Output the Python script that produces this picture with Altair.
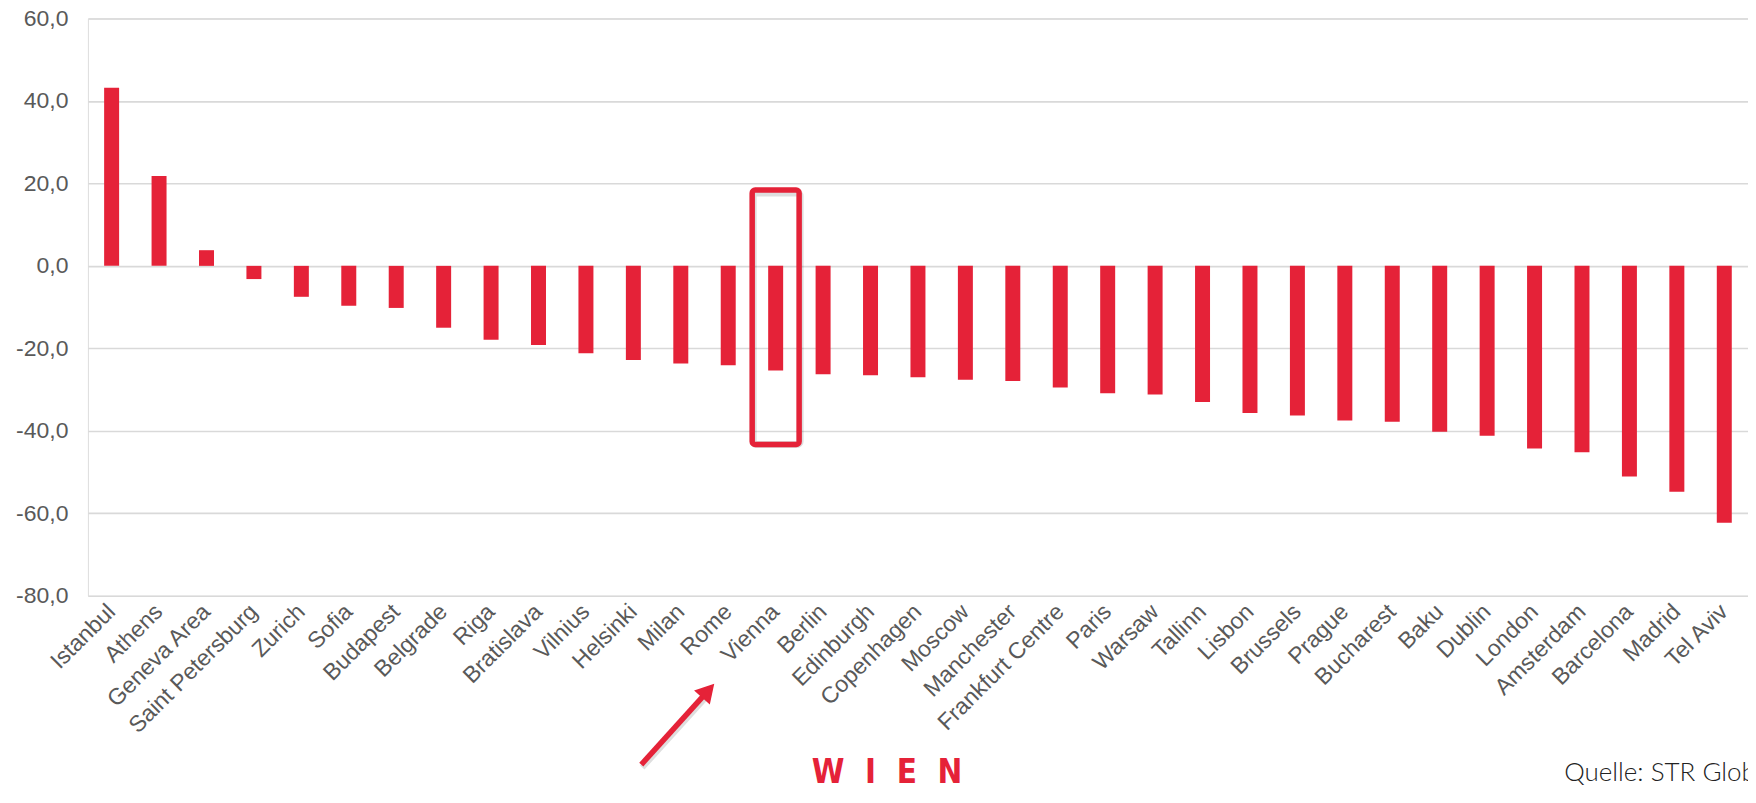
import altair as alt
import pandas as pd

# ---------------- data ----------------
cities = ["Istanbul", "Athens", "Geneva Area", "Saint Petersburg", "Zurich", "Sofia",
          "Budapest", "Belgrade", "Riga", "Bratislava", "Vilnius", "Helsinki", "Milan",
          "Rome", "Vienna", "Berlin", "Edinburgh", "Copenhagen", "Moscow", "Manchester",
          "Frankfurt Centre", "Paris", "Warsaw", "Tallinn", "Lisbon", "Brussels", "Prague",
          "Bucharest", "Baku", "Dublin", "London", "Amsterdam", "Barcelona", "Madrid",
          "Tel Aviv"]
values = [43.2, 21.8, 3.8, -3.2, -7.5, -9.7,
          -10.2, -15.0, -17.9, -19.2, -21.2, -22.8, -23.7,
          -24.1, -25.4, -26.3, -26.5, -27.0, -27.6, -27.9,
          -29.5, -30.9, -31.2, -33.0, -35.7, -36.3, -37.5,
          -37.8, -40.2, -41.2, -44.3, -45.2, -51.1, -54.8,
          -62.3]
y_ticks = [-80, -60, -40, -20, 0, 20, 40, 60]
highlight_city = ["Vienna"]
highlight_top = [18.4]
highlight_bottom = [-43.3]
source_text = "Quelle: STR Global"
logo_text = "W\u00a0\u00a0I\u00a0\u00a0E\u00a0\u00a0N"

# ---------------- style ----------------
RED = "#E52238"
GREY = "#595959"
LABEL_FONT = "Liberation Sans, Arial, Helvetica, sans-serif"
TOP = 10  # plot top inside the svg

df = pd.DataFrame({"city": cities, "value": values})
box_df = pd.DataFrame({"city": highlight_city, "top": highlight_top, "bottom": highlight_bottom})
one = pd.DataFrame({"k": [0]})

x_enc = alt.X(
    "city:N", sort=cities,
    scale=alt.Scale(paddingInner=0, paddingOuter=0),
    axis=alt.Axis(title=None, labelAngle=-45, labelAlign="right", labelBaseline="middle",
                  labelPadding=12, labelFont=LABEL_FONT, labelFontSize=23,
                  labelColor=GREY, ticks=False, domain=False, grid=False,
                  labelOverlap=False, labelLimit=400),
)

y_enc = alt.Y(
    "value:Q",
    scale=alt.Scale(domain=[-80, 60], nice=False, zero=False),
    axis=alt.Axis(title=None, values=y_ticks,
                  labelExpr="replace(replace(format(datum.value, '.1f'), '.', ','), '\u2212', '-')",
                  grid=True, gridColor="#d9d9d9", gridWidth=1.6, ticks=False, domain=False,
                  labelPadding=20, labelFont=LABEL_FONT, labelFontSize=23, labelColor=GREY),
)

bars = alt.Chart(df).mark_bar(size=15, color=RED).encode(x=x_enc, y=y_enc)

box_shadow = alt.Chart(box_df).mark_bar(
    size=47, fillOpacity=0, stroke="#000000", strokeOpacity=0.13, strokeWidth=7,
    cornerRadius=3, xOffset=1, yOffset=3
).encode(x=alt.X("city:N", sort=cities), y="top:Q", y2="bottom:Q")

box = alt.Chart(box_df).mark_bar(
    size=47, fillOpacity=0, stroke=RED, strokeWidth=5.5, cornerRadius=3
).encode(x=alt.X("city:N", sort=cities), y="top:Q", y2="bottom:Q")

# annotation positions relative to the plot origin (page x 88, page y 8 + TOP)
arrow_shadow = alt.Chart(one).mark_rule(color="#000000", opacity=0.13, strokeWidth=6).encode(
    x=alt.value(555), y=alt.value(760 - TOP), x2=alt.value(622), y2=alt.value(686 - TOP))

arrow_line = alt.Chart(one).mark_rule(color=RED, strokeWidth=5.5).encode(
    x=alt.value(554), y=alt.value(757 - TOP), x2=alt.value(621), y2=alt.value(683 - TOP))

arrow_head = alt.Chart(one).mark_point(
    shape="triangle-up", filled=True, size=450, angle=42, color=RED, opacity=1
).encode(x=alt.value(620.9), y=alt.value(683 - TOP))

source = alt.Chart(one).mark_text(
    text=source_text, align="left", baseline="alphabetic", font="Lato, Roboto, sans-serif",
    fontWeight=300, fontSize=26, color="#222222"
).encode(x=alt.value(1478), y=alt.value(773 - TOP))

logo = alt.Chart(one).mark_text(
    text=logo_text, align="center", baseline="alphabetic",
    font="Liberation Sans Narrow, DejaVu Sans Condensed, Liberation Sans, sans-serif",
    fontWeight="bold", fontSize=33, color=RED
).encode(x=alt.value(800), y=alt.value(775 - TOP))

chart = alt.layer(
    bars, box_shadow, box, arrow_shadow, arrow_line, arrow_head, source, logo
).properties(
    width=1662, height=578,
    autosize=alt.AutoSizeParams(type="none"),
    padding={"left": 80, "top": TOP, "right": 0, "bottom": 195},
).configure_view(stroke=None).configure(background="white")

chart.save("out.html", embed_options={"renderer": "svg", "actions": False})
